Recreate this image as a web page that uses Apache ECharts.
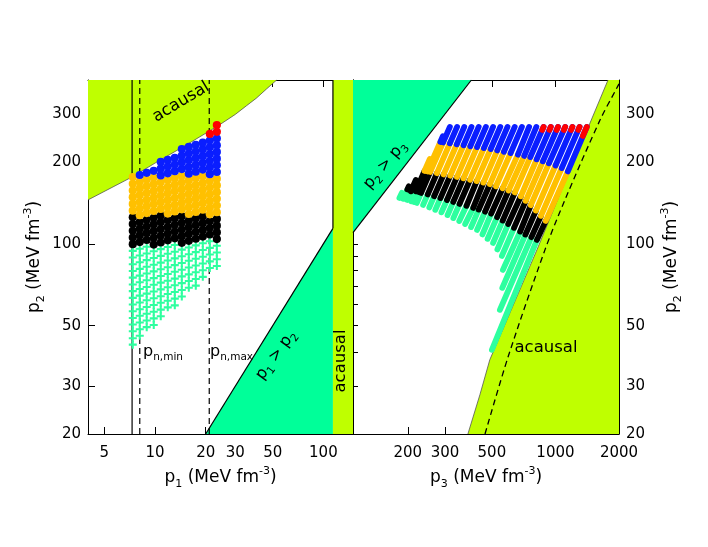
<!DOCTYPE html>
<html><head><meta charset="utf-8">
<script src="https://cdn.jsdelivr.net/npm/echarts@6/dist/echarts.min.js"></script>
<style>html,body{margin:0;padding:0;background:#fff}#c{width:708px;height:547px}</style>
</head><body><div id="c"></div>
<script>
// ---------- tick labels ----------
const leftXTicks = [5, 10, 20, 30, 50, 100];
const rightXTicks = [200, 300, 500, 1000, 2000];
const yTicks = [20, 30, 50, 100, 200, 300];
const yTicksAll = [30, 40, 50, 60, 70, 80, 90, 100, 200, 300];

// ---------- left panel: p2 vs p1 grid models ----------
const leftColP1 = [7.38, 8.12, 8.93, 9.83, 10.82, 11.91, 13.11, 14.43, 15.88, 17.47, 19.23, 21.17, 23.3];
const leftCyanP2 = [
  [42.6,45.0,47.7,50.5,53.4,56.5,59.8,63.3,67.0,70.9,75.1,79.5,84.1,89.0,94.2],
  [45.9,48.5,51.4,54.4,57.5,60.9,64.5,68.2,72.2,76.4,80.9,85.6,90.6,95.9],
  [49.4,52.3,55.3,58.6,62.0,65.6,69.4,73.5,77.8,82.3,87.1,92.2,97.6],
  [50.3,53.2,56.3,59.6,63.1,66.8,70.7,74.8,79.2,83.8,88.7,93.9],
  [54.2,57.3,60.7,64.2,68.0,72.0,76.2,80.6,85.3,90.3,95.6],
  [58.4,61.8,65.4,69.2,73.2,77.5,82.0,86.8,91.9,97.3],
  [59.4,62.9,66.5,70.4,74.5,78.9,83.5,88.4,93.5,99.0],
  [64.0,67.7,71.7,75.9,80.3,85.0,90.0,95.2],
  [69.0,73.0,77.2,81.8,86.6,91.6,96.9],
  [70.2,74.3,78.6,83.2,88.1,93.2,98.7],
  [75.6,80.0,84.7,89.7,94.9,100.4],
  [81.5,86.2,91.3,96.6,102.2],
  [82.9,87.8,92.9,98.3]
];
const leftBlackP2 = [
  [99.7,105.5,111.7,118.2,125.1],
  [101.5,107.4,113.7,120.3],
  [103.3,109.4,115.7,122.5],
  [99.4,105.2,111.3,117.8,124.7],
  [101.1,107.0,113.3,119.9,126.9],
  [103.0,109.0,115.3,122.1],
  [104.8,110.9,117.4,124.2],
  [100.8,106.7,112.9,119.5,126.5],
  [102.6,108.6,114.9,121.6],
  [104.4,110.5,117.0,123.8],
  [106.3,112.5,119.1,126.0],
  [108.2,114.5,121.2],
  [104.1,110.1,116.6,123.4]
];
const leftOrangeP2 = [
  [132.4,140.2,148.4,157.0,166.2,175.9],
  [127.4,134.8,142.7,151.0,159.8,169.2],
  [129.7,137.2,145.2,153.7,162.7,172.2],
  [132.0,139.7,147.8,156.5,165.6,175.3],
  [134.3,142.2,150.5,159.3,168.6],
  [129.2,136.7,144.7,153.2,162.1,171.6],
  [131.5,139.2,147.3,155.9,165.0,174.7],
  [133.9,141.7,150.0,158.7,168.0,177.8],
  [128.7,136.2,144.2,152.6,161.5,171.0],
  [131.0,138.7,146.8,155.4,164.4,174.0],
  [133.4,141.2,149.4,158.1,167.4,177.1],
  [128.3,135.8,143.7,152.1,161.0,170.4],
  [130.6,138.2,146.3,154.8,163.9,173.4]
];
const leftBlueP2 = [
  [],
  [179.0],
  [182.3],
  [185.5],
  [178.4,188.8,199.9],
  [181.6,192.2,203.4],
  [184.9,195.7,207.1],
  [188.2,199.2,210.8,223.1],
  [181.0,191.5,202.7,214.6,227.1],
  [184.2,195.0,206.4,218.4,231.2],
  [187.5,198.4,210.0,222.3,235.3],
  [180.3,190.9,202.0,213.8,226.3,239.5],
  [183.6,194.3,205.6,217.6,230.3,243.8]
];
const leftRedP2 = [[],[],[],[],[],[],[],[],[],[],[],[253.5],[258.0,273.1]];

// left panel regions / lines
const leftAcausalCurve = [[4,145],[7.3,176],[10,198],[15,229],[23.6,271],[30,299],[35,322],[40,343],[46,371],[52.8,400]];
const leftBandP1 = [114, 150];
const leftTriangle = [[20,20],[114,114],[114,20]];
const p1SolidLine = 7.31;
const pnMin = 8.12;
const pnMax = 21.0;

// ---------- right panel: p2 vs p3 model streaks [p3a, p2a, p3b, p2b] ----------
const rightCyanSegs = [
  [220.6,141.4,231.2,153.9],[236.3,139,248.5,151.9],[252.8,136.1,266.4,149.6],[269.9,133.3,285.4,147.3],
  [288.6,130.5,306.5,144.9],[308.5,127.5,328.3,142.6],[328.6,124.3,351.6,140.2],[350.5,121.2,379.1,137.9],
  [373.8,118.2,407.9,135.5],[398.7,115.2,433.1,133.6],[425.6,112.5,464.4,131.3],[451.4,108.3,496.4,129.1],
  [477.3,104.3,529.4,125.3],[506.7,100.8,562.7,121.7],[531.1,95.4,597.6,118.2],[557.8,90.3,636.7,114.5],
  [564,80.2,680.5,110.9],[560.3,68.9,720.9,108.1],[545.8,57.2,769.7,105.8],[500.2,40.8,817.5,103.4],
  [214.5,142.4,224.5,155.2],[207.8,143.3,218,156],[198.5,145,206.7,156],[190.4,146.3,199,158.4],[182.5,147.5,187.3,153.9]
];
const rightBlackSegs = [
  [231.2,153.9,255.3,183.8],[248.5,151.9,274.7,181.8],[266.4,149.6,295.6,179.9],[285.4,147.3,317.7,178],
  [306.5,144.9,341.8,176.2],[328.3,142.6,366.9,174.1],[351.6,140.2,394.3,172],[379.1,137.9,423.8,170],
  [407.9,135.5,455.9,167.9],[433.1,133.6,489.4,165.6],[464.4,131.3,523,162.8],[496.4,129.1,562.7,160],
  [529.4,125.3,600.2,157],[562.7,121.7,642.9,154.5],[597.6,118.2,685.7,149.5],[636.7,114.5,723.3,143.9],
  [680.5,110.9,764.7,138.7],[720.9,108.1,808.7,132.5],[769.7,105.8,854,126.7],[817.5,103.4,899.9,121.4],
  [224.5,155.2,247.7,184.6],[218,156,240,185.3],[206.7,156,218.2,171.7],[199,158.4,202.2,162.7]
];
const rightOrangeSegs = [
  [255.3,183.8,294,235.9],[274.7,181.8,316.3,234.1],[295.6,179.9,341,232.1],[317.7,178,367.3,230.3],
  [341.8,176.2,395.2,228.4],[366.9,174.1,425.6,226.7],[394.3,172,458.4,224.8],[423.8,170,493.7,223.1],
  [455.9,167.9,530.5,220.4],[489.4,165.6,570.2,218],[523,162.8,613.4,215.5],[562.7,160,664.3,212.7],
  [600.2,157,711.6,210.4],[642.9,154.5,760.5,208.3],[685.7,149.5,814.9,204.4],[723.3,143.9,871.9,201],
  [764.7,138.7,931.9,197.6],[808.7,132.5,1001,194],[854,126.7,1071,189.8],[899.9,121.4,1145,184.6],
  [247.7,184.6,285.2,236.9],[240,185.3,254.2,205.1]
];
const rightBlueSegs = [
  [294,235.9,316.3,268.9],[316.3,234.1,342.2,268.9],[341,232.1,370.1,268.9],[367.3,230.3,400.4,268.9],
  [395.2,228.4,433.1,268.9],[425.6,226.7,468.5,268.9],[458.4,224.8,506.7,268.9],[493.7,223.1,548.2,268.9],
  [530.5,220.4,593,268.9],[570.2,218,641.5,268.9],[613.4,215.5,693.9,268.9],[664.3,212.7,750.6,268.9],
  [711.6,210.4,812.2,268.9],[760.5,208.3,878.6,268.9],[814.9,204.4,950.4,268.9],[871.9,201,1028,268.9],
  [931.9,197.6,1112,268.9],[1001,194,1203,268.9],[1071,189.8,1301,268.9],[1145,184.6,1408,268.9],
  [285.2,236.9,293,248.6]
];
const rightRedSegs = [
  [866.3,262.2,878.6,268.9],[937.1,262.2,950.4,268.9],[1013.6,262.2,1028,268.9],[1096.4,262.2,1112,268.9],
  [1186.2,262.2,1203,268.9],[1282.8,262.2,1301,268.9],[1349,249.2,1408,268.9]
];

// right panel regions / lines
const rightTriangle = [[110,110],[400,400],[110,400]];
const rightAcausalCurve = [[385,20],[439,27.9],[489,37.5],[817,95],[1051,152.5],[1380,251],[1774,400]];
const rightDashed = [[464,20],[598,38.6],[892,95],[1109,145],[1626,285],[1950,373],[2000,387]];

// ---------- styling ----------
const F = "'DejaVu Sans', sans-serif";
const C_YG = '#bfff00', C_GR = '#00ff99', C_CY = '#2dff9f', C_OR = '#ffc000', C_BL = '#0a1eff', C_RD = '#ff0000', C_BK = '#000000';
const richE = {
  i: {fontSize: 17, fontFamily: F, color: '#000', lineHeight: 24},
  s: {fontSize: 11, fontFamily: F, color: '#000', verticalAlign: 'bottom', lineHeight: 14},
  u: {fontSize: 11, fontFamily: F, color: '#000', verticalAlign: 'top', lineHeight: 14}
};
const richG = {
  i: {fontSize: 16, fontFamily: F, fill: '#000', lineHeight: 22},
  s: {fontSize: 10.5, fontFamily: F, fill: '#000', verticalAlign: 'bottom', lineHeight: 13},
  u: {fontSize: 10.5, fontFamily: F, fill: '#000', verticalAlign: 'top', lineHeight: 13}
};
const crossPath = 'path://M2.6,0H4.4V2.6H7V4.4H4.4V7H2.6V4.4H0V2.6H2.6Z';

function cols(p1s, lists) {
  const out = [];
  lists.forEach((l, j) => l.forEach(v => out.push([p1s[j], v])));
  return out;
}
function polySeries(pts, fill, xi, yi, z) {
  return {type: 'custom', xAxisIndex: xi, yAxisIndex: yi, data: [pts[0]], z: z, silent: true,
    renderItem: function (params, api) {
      return {type: 'polygon', shape: {points: pts.map(p => api.coord(p))}, style: {fill: fill}};
    }};
}
function lineSeries(pts, color, width, type, xi, yi, z, smooth) {
  return {type: 'line', xAxisIndex: xi, yAxisIndex: yi, data: pts, showSymbol: false, symbol: 'none',
    smooth: smooth || false, lineStyle: {color: color, width: width, type: type}, z: z, silent: true};
}
function segSeries(segs, color, width, z) {
  return {type: 'custom', xAxisIndex: 2, yAxisIndex: 3, data: segs, z: z, silent: true,
    encode: {x: [0, 2], y: [1, 3]},
    renderItem: function (params, api) {
      const a = api.coord([api.value(0), api.value(1)]);
      const b = api.coord([api.value(2), api.value(3)]);
      return {type: 'line', shape: {x1: a[0], y1: a[1], x2: b[0], y2: b[1]},
        style: {stroke: color, lineWidth: width, lineCap: 'round'}};
    }};
}
function scatterSeries(data, color, symbol, size, z) {
  return {type: 'scatter', xAxisIndex: 0, yAxisIndex: 0, data: data, symbol: symbol, symbolSize: size,
    itemStyle: {color: color, opacity: 1}, z: z, silent: true};
}
const plainFmt = function (v) { return String(Math.round(v)); };
function xAx(grid, pos, min, max, ticks, showLabel, name) {
  return {type: 'log', logBase: 10, gridIndex: grid, position: pos, min: min, max: max,
    axisLine: {show: true, lineStyle: {color: '#000', width: 1}},
    axisTick: {show: true, inside: true, length: 7, customValues: ticks, lineStyle: {color: '#000'}},
    axisLabel: {show: showLabel, customValues: ticks, formatter: plainFmt, margin: 12, fontSize: 15, fontFamily: F, color: '#000'},
    splitLine: {show: false}, minorTick: {show: false},
    name: name || '', nameLocation: 'middle', nameGap: 31, nameTextStyle: {rich: richE}};
}
function yAx(grid, pos, ticks, len, showLabel, name) {
  return {type: 'log', logBase: 10, gridIndex: grid, position: pos, min: 20, max: 400,
    axisLine: {show: true, lineStyle: {color: '#000', width: 1}},
    axisTick: {show: true, inside: true, length: len, customValues: ticks, lineStyle: {color: '#000'}},
    axisLabel: {show: showLabel, customValues: yTicks, formatter: plainFmt, margin: 7, fontSize: 15, fontFamily: F, color: '#000'},
    splitLine: {show: false}, minorTick: {show: false},
    name: name || '', nameLocation: 'middle', nameGap: 41, nameRotate: 90, nameTextStyle: {rich: richE}};
}

const xName1 = '{i|p}{s|1}{i| (MeV fm}{u|-3}{i|)}';
const xName3 = '{i|p}{s|3}{i| (MeV fm}{u|-3}{i|)}';
const yName2 = '{i|p}{s|2}{i| (MeV fm}{u|-3}{i|)}';

const chart = echarts.init(document.getElementById('c'), null, {renderer: 'canvas'});
chart.setOption({
  animation: false,
  backgroundColor: '#fff',
  grid: [
    {left: 88, top: 80, width: 265, height: 354, outerBoundsMode: 'none'},
    {left: 353, top: 80, width: 266, height: 354, outerBoundsMode: 'none'}
  ],
  xAxis: [
    xAx(0, 'bottom', 4, 150, leftXTicks, true, xName1),
    xAx(0, 'top', 4, 150, leftXTicks, false),
    xAx(1, 'bottom', 110, 2000, rightXTicks, true, xName3),
    xAx(1, 'top', 110, 2000, rightXTicks, false)
  ],
  yAxis: [
    yAx(0, 'left', yTicks, 7, true, yName2),
    yAx(0, 'right', yTicksAll, 5, false),
    yAx(1, 'left', yTicksAll, 5, false),
    yAx(1, 'right', yTicks, 7, true, yName2)
  ],
  series: [
    // left panel regions
    polySeries([[4, 400]].concat(leftAcausalCurve), C_YG, 0, 0, 1),
    polySeries(leftTriangle, C_GR, 0, 0, 1),
    polySeries([[leftBandP1[0], 20], [leftBandP1[1], 20], [leftBandP1[1], 400], [leftBandP1[0], 400]], C_YG, 0, 0, 1),
    lineSeries(leftAcausalCurve, '#555', 0.8, 'solid', 0, 0, 2),
    lineSeries([[leftTriangle[0][0], leftTriangle[0][1]], [leftTriangle[1][0], leftTriangle[1][1]]], C_BK, 1.2, 'solid', 0, 0, 2),
    lineSeries([[leftBandP1[0], leftTriangle[1][1]], [leftBandP1[0], 400]], C_BK, 1.2, 'solid', 0, 0, 2),
    lineSeries([[p1SolidLine, 20], [p1SolidLine, 400]], C_BK, 1.2, 'solid', 0, 0, 2),
    lineSeries([[pnMin, 20], [pnMin, 400]], C_BK, 1.2, [6, 4], 0, 0, 2),
    lineSeries([[pnMax, 20], [pnMax, 400]], C_BK, 1.2, [6, 4], 0, 0, 2),
    // left panel models
    scatterSeries(cols(leftColP1, leftCyanP2), C_CY, crossPath, 8, 3),
    scatterSeries(cols(leftColP1, leftBlackP2), C_BK, 'circle', 8.2, 3),
    scatterSeries(cols(leftColP1, leftOrangeP2), C_OR, 'circle', 8.2, 3),
    scatterSeries(cols(leftColP1, leftBlueP2), C_BL, 'circle', 8.2, 3),
    scatterSeries(cols(leftColP1, leftRedP2), C_RD, 'circle', 8.2, 3),
    // right panel regions
    polySeries(rightTriangle, C_GR, 2, 3, 1),
    polySeries(rightAcausalCurve.concat([[2000, 400], [2000, 20]]), C_YG, 2, 3, 1),
    lineSeries(rightAcausalCurve, '#555', 0.8, 'solid', 2, 3, 2),
    lineSeries([rightTriangle[0], rightTriangle[1]], C_BK, 1.2, 'solid', 2, 3, 2),
    lineSeries(rightDashed, C_BK, 1.3, [6, 4], 2, 3, 2, 0.3),
    // right panel models
    segSeries(rightCyanSegs, C_CY, 5.8, 3),
    segSeries(rightBlackSegs, C_BK, 5.8, 3),
    segSeries(rightOrangeSegs, C_OR, 5.8, 3),
    segSeries(rightBlueSegs, C_BL, 5.8, 3),
    segSeries(rightRedSegs, C_RD, 5.8, 3)
  ],
  graphic: [
    {type: 'text', x: 181, y: 102, rotation: 0.54, z: 100,
      style: {text: 'acausal', fontSize: 16.5, fontFamily: F, fill: '#000', align: 'center', verticalAlign: 'middle'}},
    {type: 'text', x: 341, y: 361, rotation: Math.PI / 2, z: 100,
      style: {text: 'acausal', fontSize: 16.5, fontFamily: F, fill: '#000', align: 'center', verticalAlign: 'middle'}},
    {type: 'text', x: 546, y: 348, z: 100,
      style: {text: 'acausal', fontSize: 16.5, fontFamily: F, fill: '#000', align: 'center', verticalAlign: 'middle'}},
    {type: 'text', x: 276, y: 355, rotation: 0.94, z: 100,
      style: {text: '{i|p}{s|1}{i| > }{i|p}{s|2}', rich: richG, align: 'center', verticalAlign: 'middle'}},
    {type: 'text', x: 385, y: 165, rotation: 0.87, z: 100,
      style: {text: '{i|p}{s|2}{i| > }{i|p}{s|3}', rich: richG, align: 'center', verticalAlign: 'middle'}},
    {type: 'text', x: 143, y: 352, z: 100,
      style: {text: '{i|p}{s|n,min}', rich: richG, align: 'left', verticalAlign: 'middle'}},
    {type: 'text', x: 210, y: 352, z: 100,
      style: {text: '{i|p}{s|n,max}', rich: richG, align: 'left', verticalAlign: 'middle'}}
  ]
});
</script>
</body></html>
